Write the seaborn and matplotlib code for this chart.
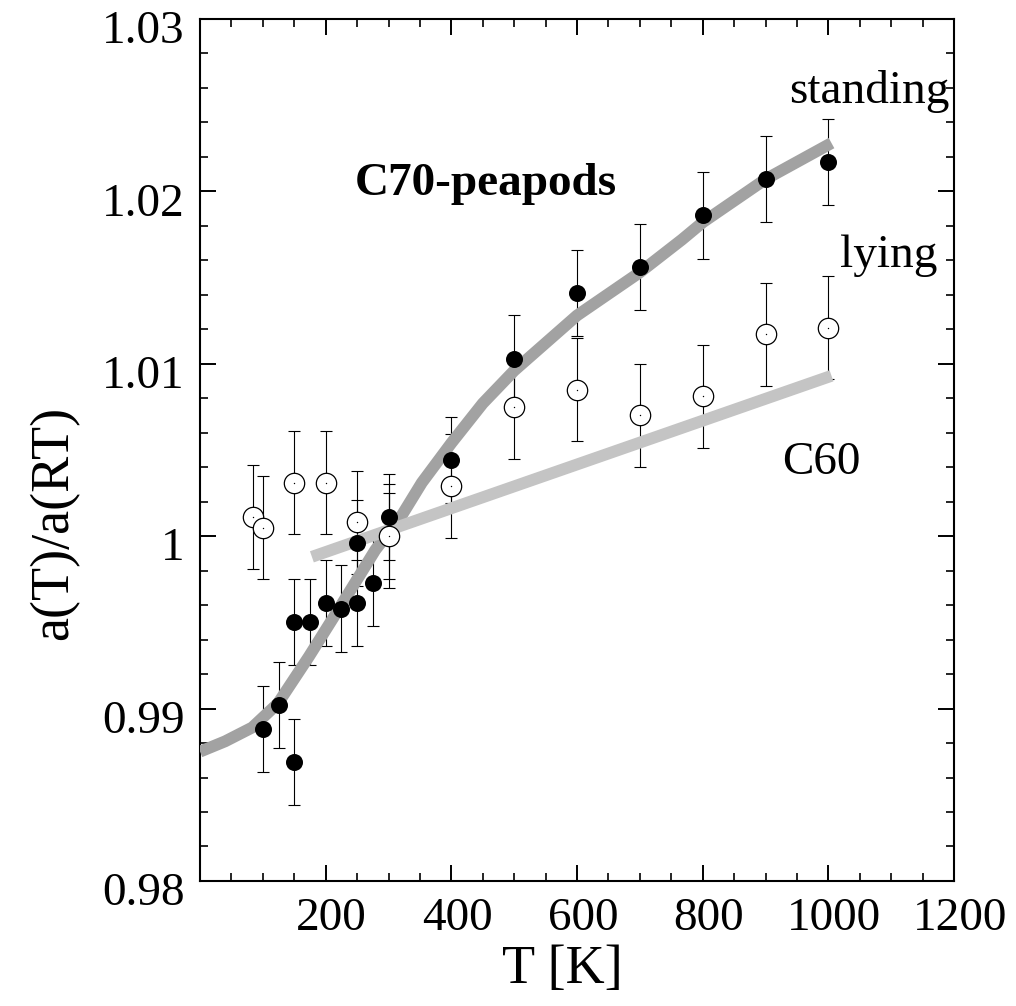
"""C70-peapods lattice expansion a(T)/a(RT) vs temperature."""

import matplotlib
matplotlib.use("Agg")
import matplotlib.pyplot as plt
import matplotlib.transforms as mtransforms
from matplotlib.ticker import MultipleLocator, FixedLocator
import seaborn as sns
import pandas as pd

# Set default style
sns.set_style("ticks")
plt.rcParams['font.family'] = ['Liberation Serif', 'DejaVu Serif']
plt.rcParams['text.color'] = 'black'
plt.rcParams['axes.labelcolor'] = 'black'

# standing C70 (filled circles)
filled_T = [100, 125, 150, 150, 175, 200, 225, 250, 250, 275, 300, 300,
            400, 500, 600, 700, 800, 900, 1000]
filled_v = [0.9888, 0.9902, 0.9869, 0.9950, 0.9950, 0.9961, 0.9958, 0.9961,
            0.9996, 0.9973, 1.0011, 1.0000, 1.0044, 1.0103, 1.0141, 1.0156,
            1.0186, 1.0207, 1.0217]
filled_err = [0.0025] * len(filled_T)

# lying C70 (open circles)
open_T = [85, 100, 150, 200, 250, 300, 400, 500, 600, 700, 800, 900, 1000]
open_v = [1.0011, 1.0005, 1.0031, 1.0031, 1.0008, 1.0000, 1.0029, 1.0075,
          1.0085, 1.0070, 1.0081, 1.0117, 1.0121]
open_err = [0.003] * len(open_T)

# fitted curve for standing molecules
standing_T = [0, 40, 83, 124, 173, 223, 279, 321, 353, 400, 450, 500, 600,
              700, 767, 800, 900, 1005]
standing_v = [0.9875, 0.9881, 0.9889, 0.9903, 0.9930, 0.9959, 0.9992, 1.0012,
              1.0031, 1.0054, 1.0077, 1.0096, 1.0128, 1.0153, 1.0172, 1.0182,
              1.0207, 1.0228]

# C60 peapods reference line
c60_T = [178, 1005]
c60_v = [0.9988, 1.0093]

x_ticks = [200, 400, 600, 800, 1000, 1200]
y_ticks = [0.98, 0.99, 1.00, 1.01, 1.02, 1.03]
y_ticklabels = ['0.98', '0.99', '1', '1.01', '1.02', '1.03']

FS = 34
LABEL_FS = 39

fig = plt.figure(figsize=(10.16, 10.06), dpi=100)
ax = fig.add_axes([0.1969, 0.1243, 0.7421, 0.8569])

std_df = pd.DataFrame({'T': standing_T, 'v': standing_v})
c60_df = pd.DataFrame({'T': c60_T, 'v': c60_v})
sns.lineplot(data=std_df, x='T', y='v', ax=ax, color='#a2a2a2', linewidth=8.5,
             sort=False, solid_capstyle='butt', zorder=3)
sns.lineplot(data=c60_df, x='T', y='v', ax=ax, color='#c4c4c4', linewidth=8.5,
             sort=False, solid_capstyle='butt', zorder=3)

# error bars
ax.errorbar(filled_T, filled_v, yerr=filled_err, fmt='none', ecolor='black',
            elinewidth=0.8, capsize=4, capthick=0.8, zorder=2)
ax.errorbar(open_T, open_v, yerr=open_err, fmt='none', ecolor='black',
            elinewidth=0.8, capsize=4, capthick=0.8, zorder=2)

# markers
sns.scatterplot(x=filled_T, y=filled_v, ax=ax, color='black', s=150,
                linewidth=0, zorder=4)
sns.scatterplot(x=open_T, y=open_v, ax=ax, facecolor='white', edgecolor='black',
                s=215, linewidth=0.9, zorder=5)
sns.scatterplot(x=open_T, y=open_v, ax=ax, color='black', s=1, linewidth=0,
                zorder=6)

ax.set_xlim(0, 1200)
ax.set_ylim(0.98, 1.03)

ax.xaxis.set_major_locator(FixedLocator(x_ticks))
ax.xaxis.set_minor_locator(MultipleLocator(50))
ax.yaxis.set_major_locator(FixedLocator(y_ticks))
ax.yaxis.set_minor_locator(MultipleLocator(0.002))
ax.set_xticklabels([str(t) for t in x_ticks])
ax.set_yticklabels(y_ticklabels)

ax.tick_params(which='both', direction='in', top=True, right=True,
               labelsize=FS, colors='black')
ax.tick_params(which='major', length=11.5, width=1.4)
ax.tick_params(which='minor', length=5.5, width=1.2)
ax.tick_params(axis='x', which='major', pad=12)
ax.tick_params(axis='y', which='major', pad=11)

for side in ['left', 'right', 'top', 'bottom']:
    ax.spines[side].set_linewidth(1.5)
    ax.spines[side].set_color('black')

# slight offsets of tick labels as in the original
for lab in ax.get_xticklabels():
    lab.set_transform(lab.get_transform() +
                      mtransforms.ScaledTranslation(0.06, 0, fig.dpi_scale_trans))
for lab in ax.get_yticklabels():
    lab.set_transform(lab.get_transform() +
                      mtransforms.ScaledTranslation(0, -0.08, fig.dpi_scale_trans))

ax.set_xlabel('T [K]', fontsize=LABEL_FS)
ax.set_ylabel('a(T)/a(RT)', fontsize=LABEL_FS)
ax.xaxis.set_label_coords(0.481, -0.074)
ax.yaxis.set_label_coords(-0.16, 0.415)

ax.text(455, 1.0204, 'C70-peapods', fontsize=FS, fontweight='bold',
        ha='center', va='center')
ax.text(937, 1.0251, 'standing', fontsize=FS, ha='left', va='baseline')
ax.text(1019, 1.0156, 'lying', fontsize=FS, ha='left', va='baseline')
ax.text(926, 1.0036, 'C60', fontsize=FS, ha='left', va='baseline')

plt.savefig('out.png', dpi=100)
plt.close()
